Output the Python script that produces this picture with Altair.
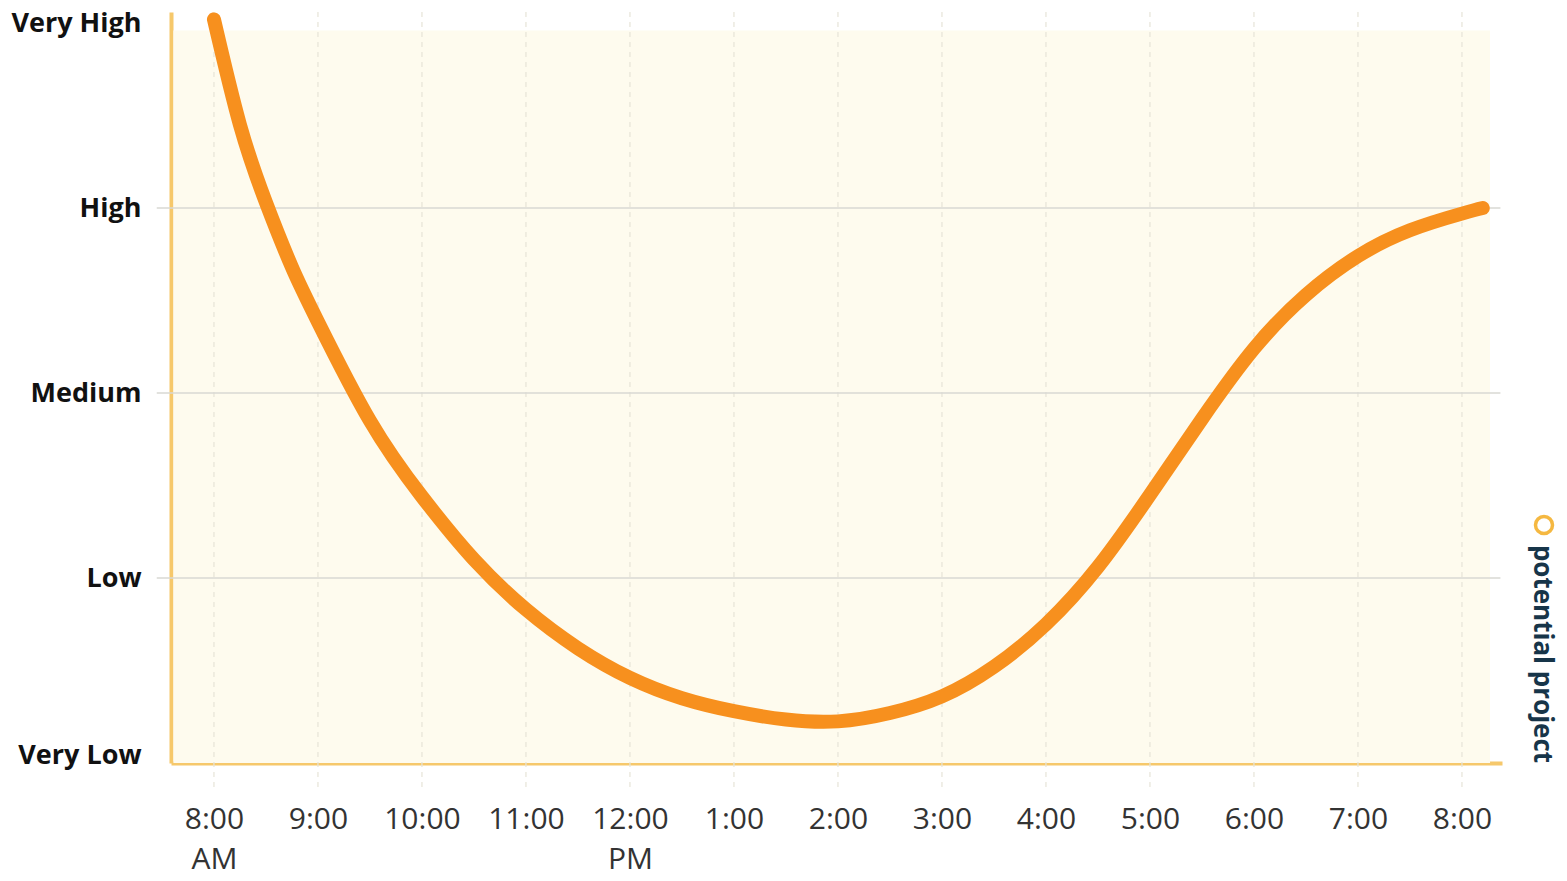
import json
import altair as alt
import pandas as pd

# ---- data ----
hours = [8, 8.25, 8.5, 8.75, 9, 9.5, 10, 10.5, 11, 11.5, 12, 12.5, 13, 13.5,
         14, 14.5, 15, 15.5, 16, 16.5, 17, 17.5, 18, 18.5, 19, 19.5, 20, 20.2]
energy = [4.02, 3.45, 3.03, 2.68, 2.385, 1.85, 1.44, 1.10, 0.83, 0.62, 0.46, 0.35,
          0.28, 0.235, 0.225, 0.27, 0.36, 0.52, 0.75, 1.06, 1.45, 1.86, 2.24, 2.53,
          2.74, 2.88, 2.97, 3.0]

tick_hours = [8, 9, 10, 11, 12, 13, 14, 15, 16, 17, 18, 19, 20]
tick_labels = [["8:00", "AM"], ["9:00"], ["10:00"], ["11:00"], ["12:00", "PM"],
               ["1:00"], ["2:00"], ["3:00"], ["4:00"], ["5:00"], ["6:00"],
               ["7:00"], ["8:00"]]

level_values = [0, 1, 2, 3, 4]
level_labels = ["Very Low", "Low", "Medium", "High", "Very High"]
grid_levels = [1, 2, 3]

legend_label = "potential project"

# ---- styling ----
FONT = "Open Sans"
LINE_COLOR = "#F7901E"
AXIS_COLOR = "#F6C86B"
BG_COLOR = "#FEFBEE"
GRID_COLOR = "#D9D9D3"
VGRID_COLOR = "#E6E4D8"

x_scale = alt.Scale(domain=[7.587, 20.385], nice=False, zero=False)
y_scale = alt.Scale(domain=[0, 4.06], nice=False, zero=False)

curve = pd.DataFrame({"hour": hours, "level": energy})
ticks_df = pd.DataFrame({"hour": tick_hours})
grid_df = pd.DataFrame({"level": grid_levels})
one = pd.DataFrame({"a": [0]})

x_label_expr = f"{json.dumps(tick_labels)}[indexof({json.dumps(tick_hours)}, datum.value)]"
y_label_expr = f"{json.dumps(level_labels)}[indexof({json.dumps(level_values)}, datum.value)]"

x_axis = alt.Axis(
    values=tick_hours, labelExpr=x_label_expr, grid=False, ticks=False,
    tickSize=0, domain=True, domainColor=AXIS_COLOR, domainWidth=4,
    labelFont=FONT, labelFontSize=30, labelColor="#333333",
    labelPadding=41, labelLineHeight=40, labelAlign="center",
    labelBaseline="top", labelOverlap=False, labelFlush=False, title=None,
)
y_axis = alt.Axis(
    values=level_values, labelExpr=y_label_expr, grid=False, ticks=False,
    tickSize=0, domain=True, domainColor=AXIS_COLOR, domainWidth=4,
    labelFont=FONT, labelFontSize=27, labelFontWeight="bold",
    labelColor="#111111", labelPadding=30, labelFlush=True,
    labelFlushOffset=6, labelOverlap=False, title=None,
)

background = alt.Chart(one).mark_rect(color=BG_COLOR).encode(
    x=alt.XDatum(7.61, type="quantitative", scale=x_scale, axis=x_axis),
    x2=alt.X2Datum(20.27),
    y=alt.YDatum(0, type="quantitative", scale=y_scale, axis=y_axis),
    y2=alt.Y2Datum(3.96),
)

vgrid = alt.Chart(ticks_df).mark_rule(
    color=VGRID_COLOR, strokeWidth=1.2, strokeDash=[5, 5]
).encode(
    x=alt.X("hour:Q", scale=x_scale, axis=x_axis),
    y=alt.YDatum(-0.13, type="quantitative", scale=y_scale, axis=y_axis),
    y2=alt.Y2Datum(4.07),
)

hgrid = alt.Chart(grid_df).mark_rule(color=GRID_COLOR, strokeWidth=1.6).encode(
    y=alt.Y("level:Q", scale=y_scale, axis=y_axis),
    x=alt.XDatum(7.45, type="quantitative", scale=x_scale, axis=x_axis),
    x2=alt.X2Datum(20.37),
)

line = alt.Chart(curve).mark_line(
    color=LINE_COLOR, strokeWidth=14, strokeCap="round", strokeJoin="round",
    interpolate="natural",
).encode(
    x=alt.X("hour:Q", scale=x_scale, axis=x_axis),
    y=alt.Y("level:Q", scale=y_scale, axis=y_axis),
)

legend_ring = alt.Chart(one).mark_point(
    shape="circle", filled=False, stroke="#F5B841", strokeWidth=3.5, size=290,
    opacity=1,
).encode(x=alt.value(1373), y=alt.value(513))

legend_text = alt.Chart(one).mark_text(
    text=legend_label, angle=90, font=FONT, fontSize=26, fontWeight="bold",
    color="#173549", align="center", baseline="middle",
).encode(x=alt.value(1371), y=alt.value(642))

chart = alt.layer(
    background, vgrid, hgrid, line, legend_ring, legend_text
).properties(
    width=1331,
    height=751,
    padding={"left": 163, "top": 4, "right": 56, "bottom": 110},
    autosize=alt.AutoSizeParams(type="none"),
    background="white",
).configure_view(stroke=None)

chart.save("out.html", embed_options={"renderer": "svg", "actions": False})
